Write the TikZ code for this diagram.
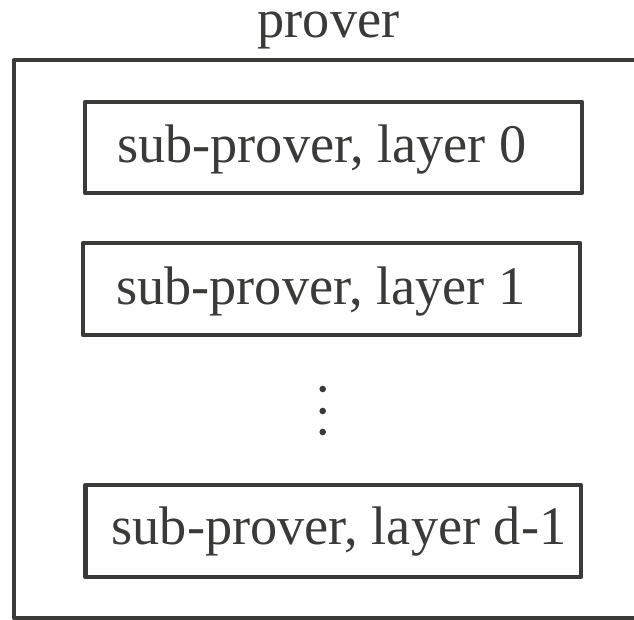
\documentclass[tikz,border=0pt]{standalone}
\usepackage{fontspec}
\setmainfont{Liberation Serif}
\definecolor{ink}{HTML}{3A3A38}
\begin{document}
\begin{tikzpicture}[x=1pt,y=1pt,
  frame/.style={draw=ink,line width=4pt,line join=round,inner sep=0pt,minimum width=#1},
  layerbox/.style={draw=ink,line width=4.5pt,line join=round,inner sep=0pt,minimum height=91pt},
  lbl/.style={text=ink,font=\fontsize{54.3}{60}\selectfont,inner sep=0pt,anchor=base west},
  dot/.style={circle,fill=ink,inner sep=0pt,minimum size=6.6pt}]
\useasboundingbox (0,0) rectangle (634,620);
\clip (0,0) rectangle (634,620);
% outer frame of the prover, running off the right side
\node[frame=636pt,minimum height=558pt] (outer) at (332,281) {};
\node[lbl,anchor=base] (title) at (328.5,582) {prover};
% one box per layer
\node[layerbox,minimum width=497pt] (L0) at (333.5,472.5) {};
\node[layerbox,minimum width=497pt,minimum height=92pt] (L1) at (331.5,331) {};
\node[layerbox,minimum width=495.5pt,minimum height=92pt] (Ld) at (333.25,89) {};
\node[lbl] (t0) at (117,457) {sub-prover, layer 0};
\node[lbl] (t1) at (116,315) {sub-prover, layer 1};
\node[lbl] (td) at (111.5,75) {sub-prover, layer d-1};
% vertical ellipsis between layer 1 and layer d-1
\node[dot] (d1) at (322.7,231) {};
\node[dot] (d2) at (322.7,209) {};
\node[dot] (d3) at (322.7,188) {};
\end{tikzpicture}
\end{document}
